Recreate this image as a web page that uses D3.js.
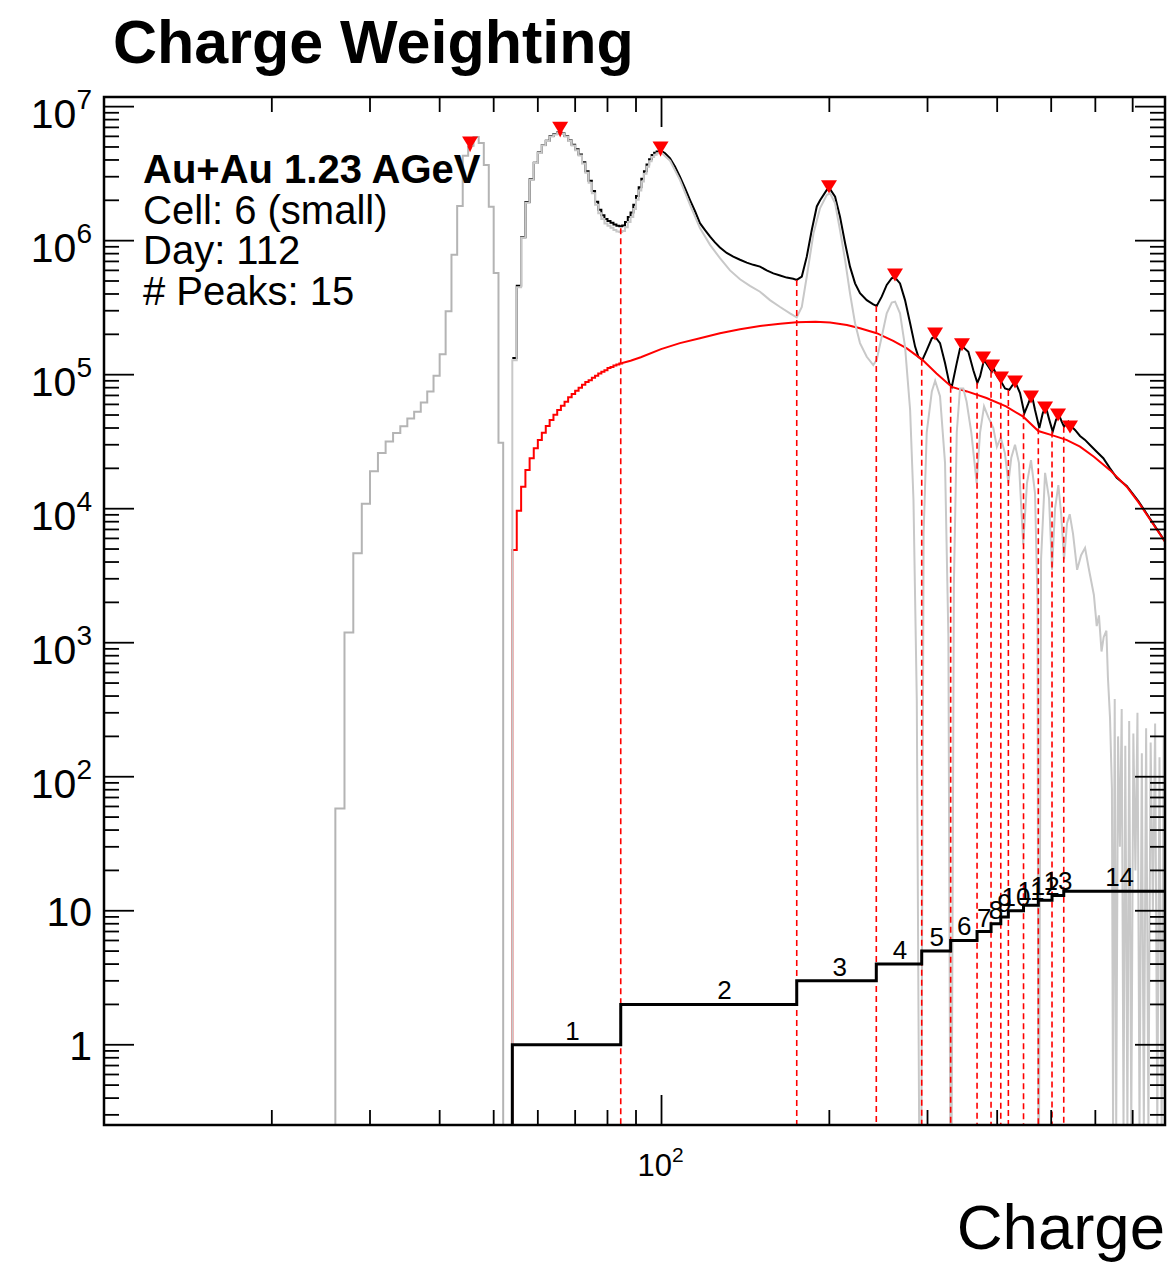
<!DOCTYPE html>
<html><head><meta charset="utf-8">
<script src="https://cdn.jsdelivr.net/npm/d3@7"></script>
<style>
body{margin:0;background:#fff;}
svg{display:block;}
text{font-family:"Liberation Sans",Arial,Helvetica,sans-serif;fill:#000;}
</style>
</head><body>
<svg id="c" width="1167" height="1263"></svg>
<script>
// ---------- data ----------
const xDomain = [10, 800];
const yDomain = [0.252, 1.18e7];

// left (pedestal-like) raw histogram, 1-charge bins starting at 26
const grayLeftStart = 26;
const grayLeftValues = [58, 1190, 4650, 10900, 19000, 26000, 31700, 36700, 41300, 47100, 53000, 62000, 75000, 98000, 142000, 297000, 786000, 1810000, 4300000, 5100000, 5930000, 5360000, 3670000, 1790000, 574000, 31000];

// 1-charge bins from 54 to 99
const binStart = 54;
const blackBins = [1.33e5, 4.6e5, 1.06e6, 1.94e6, 2.87e6, 3.82e6, 4.54e6, 5.18e6, 5.57e6, 6.04e6, 6.25e6, 6.4e6, 6.3e6, 6.04e6, 5.6e6, 5.2e6, 4.8e6, 4.4e6, 3.85e6, 3.3e6, 2.8e6, 2.35e6, 1.95e6, 1.7e6, 1.55e6, 1.45e6, 1.4e6, 1.36e6, 1.32e6, 1.29e6, 1.28e6, 1.3e6, 1.38e6, 1.5e6, 1.62e6, 1.85e6, 2.15e6, 2.5e6, 2.9e6, 3.3e6, 3.7e6, 4.05e6, 4.35e6, 4.52e6, 4.62e6, 4.67e6];
const grayBins = [1.28e5, 4.5e5, 1.05e6, 1.92e6, 2.85e6, 3.79e6, 4.5e6, 5.14e6, 5.53e6, 5.99e6, 6.2e6, 6.35e6, 6.24e6, 5.98e6, 5.53e6, 5.13e6, 4.72e6, 4.32e6, 3.77e6, 3.21e6, 2.71e6, 2.26e6, 1.85e6, 1.6e6, 1.45e6, 1.34e6, 1.29e6, 1.25e6, 1.2e6, 1.17e6, 1.16e6, 1.18e6, 1.26e6, 1.38e6, 1.5e6, 1.72e6, 2.02e6, 2.37e6, 2.76e6, 3.16e6, 3.56e6, 3.91e6, 4.21e6, 4.38e6, 4.48e6, 4.52e6];
const redBins = [4920, 9660, 14600, 19400, 23800, 28200, 32600, 36900, 41400, 45900, 50300, 54500, 58700, 62900, 67800, 71700, 76000, 80000, 84000, 88000, 91000, 95000, 98000, 102000, 105000, 108000, 112000, 114000, 117000, 119000, 121000];

// smooth parts (charge, value)
const blackTailCharge = [101.5,103.6,105.7,107.9,110.2,112.5,114.9,117.2,119.7,122.2,124.7,127.3,130.9,134.5,138.3,142.2,146.1,150.2,154.4,158.7,163.2,167.7,172.3,174.8,178.5,182.2,186.0,189.9,192.5,197.9,200.6,204.8,209.0,213.4,217.8,222.4,227.0,233.4,239.8,243.2,248.3,253.5,258.8,262.4,267.8,273.4,279.2,285.0,288.9,293.7,299.2,305.4,309.6,315.9,322.5,328.3,331.6,338.5,343.1,347.8,355.1,362.5,368.6,372.7,378.9,385.7,391.2,393.7,400.3,407.6,413.2,420.6,430.6,439.6,447.5,455.0,461.4,467.7,476.1,482.8,488.8,496.1,503.1,510.0,516.4,522.2,527.2,536.6,544.2,551.7,563.2,575.0,586.9,603.4,620.1,637.5,655.4,683,716.6,800];
const blackTailValue = [4.49e6,4.12e6,3.57e6,3.0e6,2.46e6,2.01e6,1.65e6,1.35e6,1.2e6,1.07e6,9.7e5,8.9e5,8.1e5,7.6e5,7.2e5,6.85e5,6.6e5,6.4e5,6.0e5,5.7e5,5.5e5,5.3e5,5.2e5,5.1e5,5.4e5,7.6e5,1.2e6,1.8e6,2.0e6,2.39e6,2.42e6,2.13e6,1.51e6,9.6e5,6.4e5,4.8e5,4.05e5,3.6e5,3.35e5,3.26e5,3.82e5,4.67e5,5.24e5,5.3e5,4.8e5,3.6e5,2.42e5,1.62e5,1.36e5,1.29e5,1.53e5,1.87e5,1.92e5,1.72e5,1.22e5,8.6e4,8.1e4,1.22e5,1.57e5,1.6e5,1.48e5,1.08e5,8.7e4,9.7e4,1.29e5,1.15e5,1.05e5,1.12e5,9.7e4,8.7e4,7.9e4,7.7e4,8.9e4,7.3e4,5.15e4,6.1e4,7.1e4,5.45e4,4.0e4,5.15e4,5.8e4,4.6e4,3.76e4,4.6e4,5.0e4,4.46e4,4.09e4,4.46e4,4.09e4,3.87e4,3.49e4,3.26e4,2.99e4,2.66e4,2.38e4,2.0e4,1.7e4,1.48e4,1.14e4,5.7e3];

const grayTailCharge = [103.6,107.9,112.5,117.2,122.2,127.3,132.7,138.3,144.1,150.2,156.5,163.2,170.0,174.8,178.5,182.2,187.3,192.5,197.9,200.6,204.8,209.0,213.4,217.8,222.4,227.0,233.4,239.8,243.2,248.3,253.5,258.8,262.4,267.8,273.4,279.2,283.1,287.0,289.8,292.5,295.2,299,305.4,309.6,315.9,322.5,327,329.5,331.5,334.5,338.5,343.1,347.8,352.5,359.5,367.5,372.7,378.9,385.7,393.7,399.5,406,413,418.9,424,430.6,437.6,445.4,452.4,460,467.7,472.5,474.1,475.5,479.5,487.5,495.5,501.7,508,515,520.9,527.2,533.8,539.7,547.2,556.5,565.7,575,584.5,596.4,603.4,609,615.5,621,628,632,637.5,642.5,645.5,650,654,659,664,669,674,679,685,690,696,702,708,714,720,727,733,740,747,754,761,768,775,782,789,796,800];
const grayTailValue = [3.95e6,2.84e6,1.85e6,1.24e6,9.3e5,7.4e5,6.0e5,5.15e5,4.6e5,4.16e5,3.6e5,3.2e5,2.87e5,2.68e5,3.2e5,5.4e5,1.13e6,1.75e6,2.19e6,2.26e6,1.9e6,1.2e6,7.2e5,4.05e5,2.42e5,1.72e5,1.36e5,1.18e5,1.29e5,1.92e5,2.87e5,3.45e5,3.51e5,2.87e5,1.62e5,5.45e4,1.16e4,374,0,0,6.5e3,3.7e4,7.5e4,9.0e4,6.9e4,2.2e4,1.1e3,0,0,2.7e3,3.7e4,7.9e4,7.9e4,6.3e4,3.7e4,1.55e4,3.7e4,5.8e4,4.8e4,4.0e4,2.9e4,3.4e4,2.6e4,1.55e4,2.4e4,3.0e4,2.2e4,5.4e3,1.55e4,2.3e4,1.3e4,2e3,0,0,4.2e3,1.85e4,1.2e4,3.5e3,1.0e4,1.5e4,9.2e3,4.2e3,7.8e3,9.1e3,6.5e3,3.5e3,4.5e3,5.1e3,3.5e3,2270,1330,1600,860,1100,1230,550,275,81,0,380,0,200,30,320,0,170,0,260,0,210,20,300,0,150,0,230,0,180,10,250,0,140,0,200,0,160,0,180];

const redTailCharge = [85,88,91.8,99.8,107.9,117.2,127.3,138.3,150.2,163.2,174.8,188.9,200.6,215,227,243.2,260.4,275.4,293.7,311.4,331.6,353.2,382.7,414.9,445.4,474.1,504.6,532.5,563.2,596.4,637.5,683,716.6,800];
const redTailValue = [1.22e5,1.27e5,1.35e5,1.55e5,1.72e5,1.87e5,2.04e5,2.18e5,2.31e5,2.4e5,2.46e5,2.48e5,2.45e5,2.35e5,2.22e5,2.04e5,1.79e5,1.57e5,1.29e5,1.02e5,8.1e4,7.5e4,6.7e4,5.8e4,4.86e4,3.8e4,3.51e4,3.26e4,2.9e4,2.44e4,1.94e4,1.46e4,1.12e4,5.67e3];

// found peaks
const peakCharge = [45.35, 65.8, 99.6, 199.7, 262.3, 309.5, 345.9, 377.3, 391.6, 406.4, 430.6, 460, 487.5, 514.3, 540.4];
const peakValue = [5.36e6, 6.9e6, 4.92e6, 2.52e6, 5.55e5, 2.01e5, 1.67e5, 1.33e5, 1.16e5, 9.45e4, 8.83e4, 6.82e4, 5.65e4, 5.0e4, 4.07e4];
const smallPeakCharge = [45.35, 65.8, 99.6];
const smallPeakValue = [4.8e6, 6.2e6, 4.45e6];

// valleys (separators)
const valleyCharge = [84.5, 174.8, 242.8, 292.9, 330.1, 368.1, 390.0, 406.0, 418.9, 446.0, 474.1, 501.7, 526.6];
const valleyValue = [1.24e6, 5.09e5, 3.26e5, 1.29e5, 8.13e4, 8.7e4, 1.05e5, 8.7e4, 7.7e4, 5.15e4, 3.98e4, 3.76e4, 4.09e4];

// charge-weighting step histogram
const stepEdges = [10, 54, 84.5, 174.8, 242.8, 292.9, 330.1, 368.1, 390.0, 406.0, 418.9, 446.0, 474.1, 501.7, 526.6, 800];
const stepCounts = [0, 1, 2, 3, 4, 5, 6, 7, 8, 9, 10, 11, 12, 13, 14];

// ticks
const yMajor = [1, 10, 1e2, 1e3, 1e4, 1e5, 1e6, 1e7];
const yMajorLabel = ["1", "10", "10|2", "10|3", "10|4", "10|5", "10|6", "10|7"];
const xMinor = [20, 30, 40, 50, 60, 70, 80, 90, 200, 300, 400, 500, 600, 700, 800];
const xMajor = [100];

// ---------- drawing ----------
const L = 104, R = 1165, T = 97, B = 1125;
const x = d3.scaleLog().domain(xDomain).range([L, R]);
const y = d3.scaleLog().domain(yDomain).range([B, T]);
const yv = v => v > 0 ? y(v) : B + 4;

const svg = d3.select("#c");
svg.append("rect").attr("width", 1167).attr("height", 1263).attr("fill", "#fff");
svg.append("defs").append("clipPath").attr("id", "clip")
  .append("rect").attr("x", L).attr("y", T).attr("width", R - L).attr("height", B - T);

const line = d3.line().x(d => x(d[0])).y(d => yv(d[1]));
function stepData(start, vals) {
  const pts = [];
  vals.forEach((v, i) => { pts.push([start + i, v]); pts.push([start + i + 1, v]); });
  return pts;
}
const zip = (a, b) => a.map((c, i) => [c, b[i]]);

const g = svg.append("g").attr("clip-path", "url(#clip)");

// gray left histogram
g.append("path")
  .attr("d", line([[grayLeftStart, 0], ...stepData(grayLeftStart, grayLeftValues), [grayLeftStart + grayLeftValues.length, 0]]))
  .attr("fill", "none").attr("stroke", "#b4b4b4").attr("stroke-width", 2);

// black total
g.append("path")
  .attr("d", line([...stepData(binStart, blackBins), ...zip(blackTailCharge, blackTailValue)]))
  .attr("fill", "none").attr("stroke", "#000").attr("stroke-width", 2);

// red background
g.append("path")
  .attr("d", line([[binStart, 0], ...stepData(binStart, redBins), ...zip(redTailCharge, redTailValue)]))
  .attr("fill", "none").attr("stroke", "#ff0000").attr("stroke-width", 2);

// gray background-subtracted
g.append("path")
  .attr("d", line([[binStart, 0], ...stepData(binStart, grayBins), ...zip(grayTailCharge, grayTailValue)]))
  .attr("fill", "none").attr("stroke", "#c8c8c8").attr("stroke-width", 2);

// dashed separators
g.selectAll("line.valley").data(zip(valleyCharge, valleyValue)).enter().append("line")
  .attr("x1", d => x(d[0])).attr("x2", d => x(d[0]))
  .attr("y1", d => y(d[1])).attr("y2", B)
  .attr("stroke", "#ff0000").attr("stroke-width", 1.6).attr("stroke-dasharray", "6,4");

// step histogram
const stepPts = [];
stepCounts.forEach((c, i) => { stepPts.push([stepEdges[i], c]); stepPts.push([stepEdges[i + 1], c]); });
g.append("path").attr("d", line(stepPts))
  .attr("fill", "none").attr("stroke", "#000").attr("stroke-width", 3);

// step labels
g.selectAll("text.cnt").data(stepCounts.map((c, i) => [c, (stepEdges[i] + stepEdges[i + 1]) / 2]).filter(d => d[0] > 0))
  .enter().append("text")
  .attr("x", d => x(d[1])).attr("y", d => y(d[0]) - 5)
  .attr("text-anchor", "middle").attr("font-size", 26).text(d => d[0]);

// peak markers
const tri = (w, h) => `M${-w/2},${-h/2}L${w/2},${-h/2}L0,${h/2}Z`;
g.selectAll("path.pk").data(zip(peakCharge, peakValue)).enter().append("path")
  .attr("transform", d => `translate(${x(d[0])},${y(d[1])})`)
  .attr("d", tri(16, 13)).attr("fill", "#ff0000");
g.selectAll("path.spk").data(zip(smallPeakCharge, smallPeakValue)).enter().append("path")
  .attr("transform", d => `translate(${x(d[0])},${y(d[1])})`)
  .attr("d", tri(5.5, 6)).attr("fill", "#ff0000");

// frame + ticks
const ax = svg.append("g").attr("stroke", "#000");
const yMinor = [];
for (let k = -1; k <= 6; k++) for (let m = 2; m <= 9; m++) {
  const v = m * Math.pow(10, k);
  if (v > yDomain[0] && v < yDomain[1]) yMinor.push(v);
}
yMajor.forEach(v => {
  ax.append("line").attr("x1", L).attr("x2", L + 30).attr("y1", y(v)).attr("y2", y(v)).attr("stroke-width", 1.8);
  ax.append("line").attr("x1", R - 30).attr("x2", R).attr("y1", y(v)).attr("y2", y(v)).attr("stroke-width", 1.8);
});
yMinor.forEach(v => {
  ax.append("line").attr("x1", L).attr("x2", L + 15).attr("y1", y(v)).attr("y2", y(v)).attr("stroke-width", 1.8);
  ax.append("line").attr("x1", R - 15).attr("x2", R).attr("y1", y(v)).attr("y2", y(v)).attr("stroke-width", 1.8);
});
xMinor.forEach(v => {
  ax.append("line").attr("x1", x(v)).attr("x2", x(v)).attr("y1", B).attr("y2", B - 15).attr("stroke-width", 1.8);
  ax.append("line").attr("x1", x(v)).attr("x2", x(v)).attr("y1", T).attr("y2", T + 15).attr("stroke-width", 1.8);
});
xMajor.forEach(v => {
  ax.append("line").attr("x1", x(v)).attr("x2", x(v)).attr("y1", B).attr("y2", B - 30).attr("stroke-width", 1.8);
  ax.append("line").attr("x1", x(v)).attr("x2", x(v)).attr("y1", T).attr("y2", T + 30).attr("stroke-width", 1.8);
});
ax.append("rect").attr("x", L).attr("y", T).attr("width", R - L).attr("height", B - T)
  .attr("fill", "none").attr("stroke-width", 2.5);

// y labels
yMajor.forEach((v, i) => {
  const parts = yMajorLabel[i].split("|");
  const t = svg.append("text").attr("x", 92).attr("text-anchor", "end").attr("font-size", 41);
  if (parts.length === 1) {
    t.attr("y", y(v) + 15).text(parts[0]);
  } else {
    t.attr("y", y(v) + 21);
    t.append("tspan").text(parts[0]);
    t.append("tspan").attr("dy", -19).attr("font-size", 28).text(parts[1]);
  }
});
// x label 10^2
xMajor.forEach(v => {
  const t = svg.append("text").attr("x", x(v) - 1).attr("y", 1176).attr("text-anchor", "middle").attr("font-size", 31);
  t.append("tspan").text("10");
  t.append("tspan").attr("dy", -14).attr("font-size", 21).text("2");
});

// titles
svg.append("text").attr("x", 113).attr("y", 63).attr("font-size", 61).attr("font-weight", "bold").text("Charge Weighting");
svg.append("text").attr("x", 1165).attr("y", 1249).attr("text-anchor", "end").attr("font-size", 63.5).text("Charge");

const info = [["Au+Au 1.23 AGeV", true], ["Cell: 6 (small)", false], ["Day: 112", false], ["# Peaks: 15", false]];
info.forEach((d, i) => {
  svg.append("text").attr("x", 143).attr("y", 183 + i * 40.5).attr("font-size", 40)
    .attr("font-weight", d[1] ? "bold" : "normal").text(d[0]);
});
</script>
</body></html>
